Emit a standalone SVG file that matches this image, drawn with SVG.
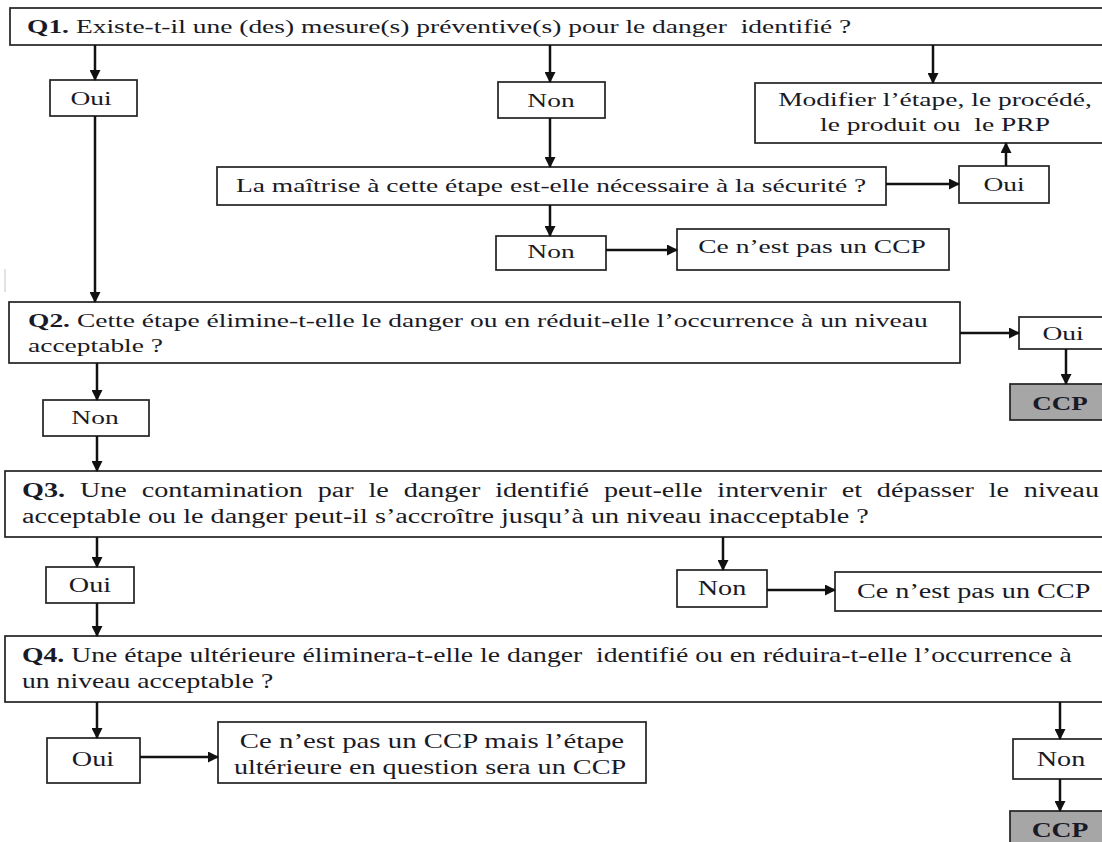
<svg xmlns="http://www.w3.org/2000/svg" width="1102" height="842" viewBox="0 0 1102 842">
  <style>
    .box { fill: #ffffff; stroke: #222222; stroke-width: 1.7; }
    .ccp { fill: #a6a6a6; stroke: #222222; stroke-width: 1.7; }
    .t { font-family: "Liberation Serif", "Times New Roman", serif; font-size: 19px; fill: #1a1a26; }
    .lo { font-size: 20px; }
    .c { text-anchor: middle; }
    .b { font-weight: bold; }
    .link { fill: none; stroke: #111111; stroke-width: 2.5; marker-end: url(#head); }
  </style>
  <defs>
    <marker id="head" markerUnits="userSpaceOnUse" markerWidth="11" markerHeight="11" refX="10" refY="5.5" orient="auto">
      <path d="M0,0 L11,5.5 L0,11 z" fill="#111111"/>
    </marker>
  </defs>
  <rect width="1102" height="842" fill="#ffffff"/>

  <!-- faint stray mark in the left margin -->
  <line x1="5" y1="269" x2="5" y2="292" stroke="#cfcfcf" stroke-width="1.2"/>

  <!-- text is set wide: every label uses a horizontal stretch -->
  <g id="q1">
    <rect class="box" x="10" y="8" width="1100" height="37"/>
    <text class="t" transform="translate(27,33) scale(1.447,1)"><tspan class="b">Q1.</tspan> Existe-t-il une (des) mesure(s) préventive(s) pour le danger&#160; identifié ?</text>
  </g>
  <g id="q1-oui">
    <rect class="box" x="50" y="80" width="87" height="36"/>
    <text class="t c" transform="translate(91,105) scale(1.447,1)">Oui</text>
  </g>
  <g id="q1-non">
    <rect class="box" x="498" y="82" width="107" height="36"/>
    <text class="t c" transform="translate(551,107) scale(1.447,1)">Non</text>
  </g>
  <g id="modifier">
    <rect class="box" x="755" y="83" width="350" height="60"/>
    <text class="t c" transform="translate(935,106) scale(1.447,1)">Modifier l’étape, le procédé,</text>
    <text class="t c" transform="translate(935,131) scale(1.447,1)">le produit ou&#160; le PRP</text>
  </g>
  <g id="maitrise">
    <rect class="box" x="217" y="167" width="669" height="38"/>
    <text class="t" transform="translate(236,192) scale(1.447,1)">La maîtrise à cette étape est-elle nécessaire à la sécurité ?</text>
  </g>
  <g id="maitrise-oui">
    <rect class="box" x="959" y="166" width="90" height="37"/>
    <text class="t c" transform="translate(1004,191) scale(1.447,1)">Oui</text>
  </g>
  <g id="maitrise-non">
    <rect class="box" x="496" y="236" width="110" height="34"/>
    <text class="t c" transform="translate(551,258) scale(1.447,1)">Non</text>
  </g>
  <g id="non-ccp-1">
    <rect class="box" x="677" y="229" width="272" height="41"/>
    <text class="t c" transform="translate(812,253) scale(1.447,1)">Ce n’est pas un CCP</text>
  </g>

  <g id="q2">
    <rect class="box" x="9" y="302" width="951" height="61"/>
    <text class="t" transform="translate(28,327) scale(1.447,1)"><tspan class="b">Q2.</tspan> Cette étape élimine-t-elle le danger ou en réduit-elle l’occurrence à un niveau</text>
    <text class="t" transform="translate(28,352) scale(1.447,1)">acceptable ?</text>
  </g>
  <g id="q2-oui">
    <rect class="box" x="1019" y="317" width="86" height="32"/>
    <text class="t c" transform="translate(1063,340) scale(1.447,1)">Oui</text>
  </g>
  <g id="q2-ccp">
    <rect class="ccp" x="1010" y="384" width="95" height="36"/>
    <text class="t c b" transform="translate(1060,410) scale(1.42,1)">CCP</text>
  </g>
  <g id="q2-non">
    <rect class="box" x="43" y="400" width="106" height="36"/>
    <text class="t c" transform="translate(95,424) scale(1.447,1)">Non</text>
  </g>

  <g id="q3">
    <rect class="box" x="5" y="471" width="1102" height="66"/>
    <text class="t lo" word-spacing="5.5" transform="translate(22,497) scale(1.41,1)"><tspan class="b">Q3.</tspan> Une contamination par le danger identifié peut-elle intervenir et dépasser le niveau</text>
    <text class="t lo" transform="translate(22,523) scale(1.41,1)">acceptable ou le danger peut-il s’accroître jusqu’à un niveau inacceptable ?</text>
  </g>
  <g id="q3-oui">
    <rect class="box" x="46" y="567" width="88" height="36"/>
    <text class="t lo c" transform="translate(90,592) scale(1.41,1)">Oui</text>
  </g>
  <g id="q3-non">
    <rect class="box" x="677" y="570" width="90" height="37"/>
    <text class="t lo c" transform="translate(722,595) scale(1.41,1)">Non</text>
  </g>
  <g id="non-ccp-2">
    <rect class="box" x="835" y="572" width="272" height="39"/>
    <text class="t lo" transform="translate(857,598) scale(1.41,1)">Ce n’est pas un CCP</text>
  </g>

  <g id="q4">
    <rect class="box" x="5" y="636" width="1102" height="66"/>
    <text class="t lo" transform="translate(22,662) scale(1.385,1)"><tspan class="b">Q4.</tspan> Une étape ultérieure éliminera-t-elle le danger&#160; identifié ou en réduira-t-elle l’occurrence à</text>
    <text class="t lo" transform="translate(22,688) scale(1.385,1)">un niveau acceptable ?</text>
  </g>
  <g id="q4-oui">
    <rect class="box" x="47" y="738" width="93" height="45"/>
    <text class="t lo c" transform="translate(93,766) scale(1.41,1)">Oui</text>
  </g>
  <g id="etape-ulterieure">
    <rect class="box" x="218" y="722" width="428" height="61"/>
    <text class="t lo c" transform="translate(432,748) scale(1.44,1)">Ce n’est pas un CCP mais l’étape</text>
    <text class="t lo c" transform="translate(430,774) scale(1.41,1)">ultérieure en question sera un CCP</text>
  </g>
  <g id="q4-non">
    <rect class="box" x="1013" y="739" width="94" height="40"/>
    <text class="t lo c" transform="translate(1061,766) scale(1.41,1)">Non</text>
  </g>
  <g id="q4-ccp">
    <rect class="ccp" x="1010" y="811" width="97" height="40"/>
    <text class="t lo c b" transform="translate(1060,837) scale(1.38,1)">CCP</text>
  </g>

  <g id="connectors">
    <path class="link" d="M95,45 V80"/>
    <path class="link" d="M550,45 V82"/>
    <path class="link" d="M933,45 V83"/>
    <path class="link" d="M550,118 V167"/>
    <path class="link" d="M886,184 H959"/>
    <path class="link" d="M1006,166 V143"/>
    <path class="link" d="M550,205 V236"/>
    <path class="link" d="M606,250 H677"/>
    <path class="link" d="M95,116 V302"/>
    <path class="link" d="M960,333 H1019"/>
    <path class="link" d="M1066,349 V384"/>
    <path class="link" d="M97,363 V400"/>
    <path class="link" d="M97,436 V471"/>
    <path class="link" d="M97,537 V567"/>
    <path class="link" d="M723,537 V570"/>
    <path class="link" d="M767,590 H835"/>
    <path class="link" d="M97,603 V636"/>
    <path class="link" d="M97,702 V738"/>
    <path class="link" d="M140,757 H218"/>
    <path class="link" d="M1060,702 V739"/>
    <path class="link" d="M1060,779 V811"/>
  </g>
</svg>
